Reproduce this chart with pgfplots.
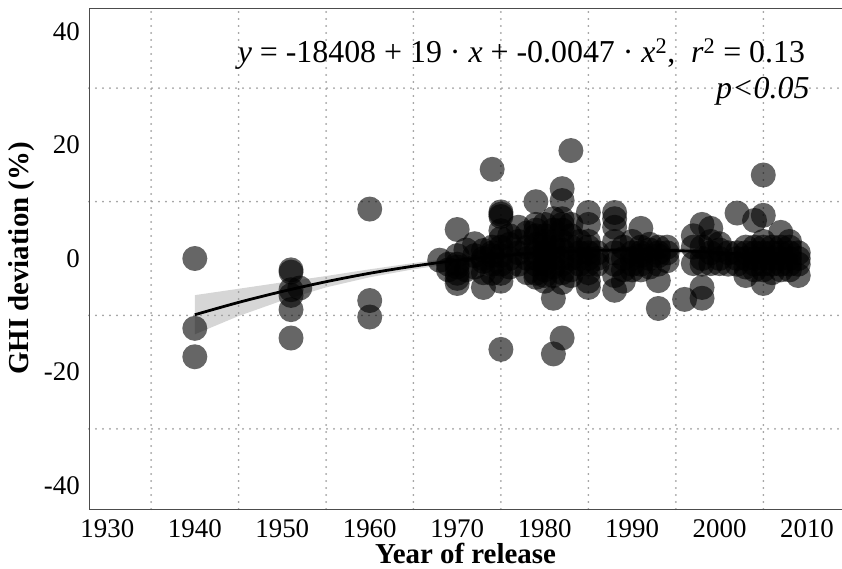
\documentclass[border=0pt]{standalone}
\usepackage{pgfplots}
\pgfplotsset{compat=1.18}
\usepackage{pgfplotstable}
\usepackage{fontspec}
\setmainfont{Liberation Serif}
\pgfplotstableread{
x y
1940 0
1940 -12.3
1940 -17.3
1951 -2
1951 -2.4
1951 -5.5
1951 -6.5
1951 -9
1951 -14
1952 -5.2
1960 8.7
1960 -7.4
1960 -10.3
1968 -0.3
1969 -1
1969 -2
1970 5.1
1970 -1.5
1970 -2.6
1970 -3.5
1970 -4.4
1970 -1
1970 0.5
1971 1.5
1971 -2
1972 2.6
1972 0.5
1972 -1.5
1973 1.4
1973 -5.1
1973 -0.5
1973 -2.5
1973 0
1974 15.7
1974 0.5
1974 2
1974 -1
1974 -2.6
1974 1
1975 8.2
1975 7.8
1975 7.4
1975 4.9
1975 3.5
1975 2
1975 0.5
1975 -1
1975 -2.6
1975 -4
1975 -16
1976 2.5
1976 0
1976 -1.5
1976 4
1977 5.5
1977 3
1977 1
1977 -1
1978 4.5
1978 2
1978 0
1978 -2.5
1979 10
1979 6
1979 4
1979 2.5
1979 1
1979 0
1979 -1
1979 -2.6
1979 -3.3
1979 5
1980 6
1980 4
1980 2
1980 1
1980 0
1980 -1
1980 -2
1980 -3
1980 -4
1980 3
1981 5
1981 3
1981 1
1981 0
1981 -1.5
1981 -3
1981 -7
1981 -16.8
1981 2
1981 7
1982 12.3
1982 10.2
1982 7
1982 5
1982 3
1982 1.5
1982 0
1982 -1
1982 -2.5
1982 -4.2
1982 -14
1982 6
1983 19
1983 6
1983 4
1983 2
1983 0
1983 -2
1983 -3
1984 3
1984 1
1984 -1
1984 0
1985 8.1
1985 6
1985 3
1985 1
1985 0
1985 -1
1985 -2.5
1985 -4
1985 -5.1
1985 2
1986 1
1986 0
1986 -1
1988 8.1
1988 5.5
1988 3
1988 1
1988 -1
1988 -3
1988 -5.6
1988 7
1989 2
1989 0
1989 -2
1989 -4
1990 1
1990 0
1990 -1
1990 -2
1990 3
1991 5.3
1991 2
1991 0.5
1991 -1
1991 -2
1991 1
1992 1.5
1992 0
1992 -1.5
1992 2.5
1993 -3.9
1993 -8.8
1993 0.5
1993 2
1993 -1
1993 1
1994 1
1994 -0.4
1994 2
1996 -7.2
1997 2
1997 -0.9
1997 4
1998 6
1998 2
1998 -1
1998 -5.1
1998 -7
1998 0
1999 5.3
1999 1
1999 -0.9
1999 3
2000 2.6
2000 -0.9
2000 0
2000 1.5
2001 1
2001 -1
2002 8
2002 1
2002 -1
2002 0
2003 2
2003 0
2003 -1.5
2003 1
2003 -3
2004 6.7
2004 1
2004 -1
2004 0
2004 2
2004 -2
2005 14.7
2005 7.6
2005 3
2005 1
2005 0
2005 -1
2005 -2
2005 -4.4
2005 2
2006 2
2006 0
2006 -1
2006 1
2006 -2.5
2007 4.6
2007 2
2007 0
2007 -1
2007 1
2007 -2
2008 3
2008 1
2008 0
2008 -1
2008 2
2008 -2
2009 -3
2009 0
2009 1
2009 -1
}\pts
\begin{document}
\begin{tikzpicture}
\begin{axis}[
  scale only axis, width=753bp, height=501bp,
  xmin=1927.9, xmax=2014, ymin=-44.1, ymax=44.1,
  xtick={1930,1940,...,2010},
  xticklabels={1930,1940,1950,1960,1970,1980,1990,2000,2010},
  ytick={-40,-20,0,20,40},
  yticklabels={-40,-20,0,20,40},
  minor xtick={1935,1945,...,2005},
  minor ytick={-30,-10,10,30},
  xminorgrids, yminorgrids,
  minor grid style={black!38, line width=2bp, line cap=round, dash pattern=on 0bp off 7bp},
  major tick length=0pt, minor tick length=0pt,
  tick label style={font=\fontsize{27}{32}\selectfont, inner sep=0pt},
  xticklabel shift=10bp, yticklabel shift=9bp,
  axis line style={black!70, line width=0.9bp},
  xlabel={Year of release}, ylabel={GHI deviation (\%)},
  label style={font=\fontsize{29}{34}\selectfont\bfseries},
  xlabel style={at={(axis description cs:0.5,-0.0878)}, anchor=center},
  ylabel style={at={(axis description cs:-0.089,0.5)}, anchor=center},
]
\addplot[only marks, mark=*, mark size=12.5bp,
  mark options={draw opacity=0, fill=black, fill opacity=0.6}] table[x=x, y=y] {\pts};
\addplot[draw=none, fill=black!40, fill opacity=0.4] coordinates {
 (1940,-6.45) (1945,-5.33) (1950,-4.2) (1955,-3.09) (1960,-1.9) (1965,-0.8)
 (1970,0.18) (1975,0.92) (1980,1.44) (1985,1.79) (1990,1.9) (1995,1.84)
 (2000,1.54) (2005,1.07) (2009,0.65)
 (2009,-0.95) (2005,-0.13) (2000,0.54) (1995,0.94) (1990,1.1) (1985,0.99)
 (1980,0.64) (1975,0.02) (1970,-0.82) (1965,-1.9) (1960,-3.3) (1955,-5.09)
 (1950,-7.4) (1945,-10.13) (1940,-13.35)
} -- cycle;
\addplot[black, line width=2.8bp, smooth] coordinates {
 (1940,-9.9) (1945,-7.73) (1950,-5.8) (1955,-4.09) (1960,-2.6) (1965,-1.35)
 (1970,-0.32) (1975,0.47) (1980,1.04) (1985,1.39) (1990,1.5) (1995,1.39)
 (2000,1.04) (2005,0.47) (2009,-0.15)
};
\node[anchor=base east, font=\fontsize{32}{38}\selectfont, inner sep=0pt] at (axis cs:2009.8,34.5)
  {\textit{y} = -18408 + 19 · \textit{x} + -0.0047 · \textit{x}\textsuperscript{2}, \ \textit{r}\textsuperscript{2} = 0.13};
\node[anchor=base east, font=\fontsize{32}{38}\selectfont, inner sep=0pt] at (axis cs:2010.3,28.2)
  {\textit{p<0.05}};
\end{axis}
\pgfresetboundingbox
\path ([shift={(-89bp,-60bp)}]current axis.south west) rectangle ([shift={(0bp,8bp)}]current axis.north east);
\end{tikzpicture}
\end{document}
